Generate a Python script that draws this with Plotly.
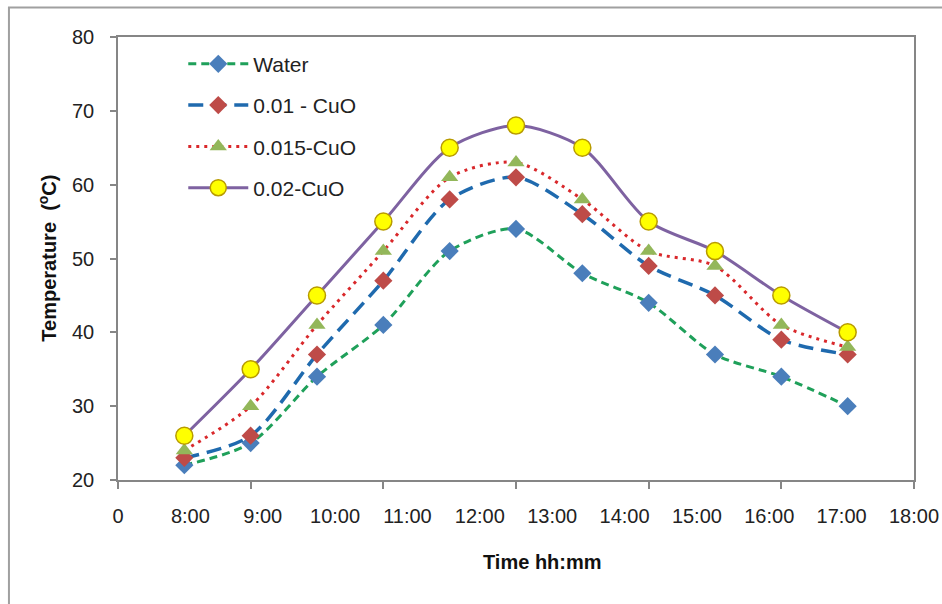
import plotly.graph_objects as go

# ---- data ----
sample_pos = [1, 2, 3, 4, 5, 6, 7, 8, 9, 10, 11]
axis_labels = ["0", "8:00", "9:00", "10:00", "11:00", "12:00", "13:00",
               "14:00", "15:00", "16:00", "17:00", "18:00"]
water = [22, 25, 34, 41, 51, 54, 48, 44, 37, 34, 30]
cuo_001 = [23, 26, 37, 47, 58, 61, 56, 49, 45, 39, 37]
cuo_0015 = [24, 30, 41, 51, 61, 63, 58, 51, 49, 41, 38]
cuo_002 = [26, 35, 45, 55, 65, 68, 65, 55, 51, 45, 40]
series_names = ["Water", "0.01 - CuO", "0.015-CuO", "0.02-CuO"]

FONT = "Liberation Sans, Arial, sans-serif"
AXIS_GRAY = "#868686"

fig = go.Figure()

fig.add_trace(go.Scatter(
    x=sample_pos, y=water, name=series_names[0], mode="lines+markers",
    legendgroup="a",
    line=dict(color="#1FA05A", width=3, dash="8px,5px", shape="spline", smoothing=0.8),
    marker=dict(symbol="diamond", size=14, color="#4A7EBB")))
fig.add_trace(go.Scatter(
    x=sample_pos, y=cuo_001, name=series_names[1], mode="lines+markers",
    legendgroup="b",
    line=dict(color="#1F6AAE", width=3.5, dash="15px,8px", shape="spline", smoothing=0.8),
    marker=dict(symbol="diamond", size=14, color="#BE4B48")))
fig.add_trace(go.Scatter(
    x=sample_pos, y=cuo_0015, name=series_names[2], mode="lines+markers",
    legendgroup="c",
    line=dict(color="#D9282B", width=3, dash="3px,5px", shape="spline", smoothing=0.8),
    marker=dict(symbol="triangle-up", size=15, color="#93B75A")))
fig.add_trace(go.Scatter(
    x=sample_pos, y=cuo_002, name=series_names[3], mode="lines+markers",
    legendgroup="d",
    line=dict(color="#7E62A1", width=3, shape="spline", smoothing=0.8),
    marker=dict(symbol="circle", size=17, color="#FFFF00",
                line=dict(color="#B89B00", width=1.5))))

# invisible trace to activate the label axis
fig.add_trace(go.Scatter(x=[0, 11], y=[None, None], xaxis="x2", showlegend=False,
                         hoverinfo="skip", mode="lines"))

fig.update_layout(
    width=942, height=604,
    margin=dict(l=118, r=28, t=37, b=124, autoexpand=False),
    paper_bgcolor="white", plot_bgcolor="white",
    font=dict(family=FONT, size=20, color="#222222"),
    showlegend=True,
    legend=dict(x=0.082, y=0.985, xanchor="left", yanchor="top",
                bgcolor="rgba(0,0,0,0)", font=dict(size=21, family=FONT),
                itemwidth=60, traceorder="grouped", tracegroupgap=11),
    xaxis=dict(range=[0, 12], tickvals=[0, 2, 4, 6, 8, 10, 12], showticklabels=False,
               ticks="outside", ticklen=7, tickcolor=AXIS_GRAY, tickwidth=1.5,
               showline=True, linecolor=AXIS_GRAY, linewidth=1.5, mirror=True,
               showgrid=False, zeroline=False, automargin=False),
    xaxis2=dict(overlaying="x", anchor="y", side="bottom", range=[0, 11],
                tickvals=list(range(len(axis_labels))), ticktext=axis_labels,
                ticks="", showline=False, showgrid=False, zeroline=False, automargin=False,
                ticklabelstandoff=22, tickfont=dict(size=20, family=FONT, color="#222222")),
    yaxis=dict(range=[20, 80], tickvals=[20, 30, 40, 50, 60, 70, 80],
               ticks="outside", ticklen=6, tickcolor=AXIS_GRAY, tickwidth=1.5,
               showline=True, linecolor=AXIS_GRAY, linewidth=1.5, mirror=True,
               showgrid=False, zeroline=False, ticklabelstandoff=12, automargin=False,
               tickfont=dict(size=20, family=FONT, color="#222222")),
)

fig.add_annotation(text="<b>Temperature  (<sup>o</sup>C)</b>", xref="paper", yref="paper",
                   x=-0.089, y=0.5, xanchor="center", yanchor="middle", textangle=-90,
                   showarrow=False, font=dict(size=20, family=FONT, color="#111111"))
fig.add_annotation(text="<b>Time hh:mm</b>", xref="paper", yref="paper",
                   x=0.533, y=-0.185, xanchor="center", yanchor="middle",
                   showarrow=False, font=dict(size=20, family=FONT, color="#111111"))

# outer chart frame (left and top edges visible)
fig.add_shape(type="path", xref="paper", yref="paper",
              path="M -0.137 -0.30 L -0.137 1.0666 L 1.05 1.0666",
              line=dict(color="#A0A0A0", width=2))

fig.write_html("out.html")
